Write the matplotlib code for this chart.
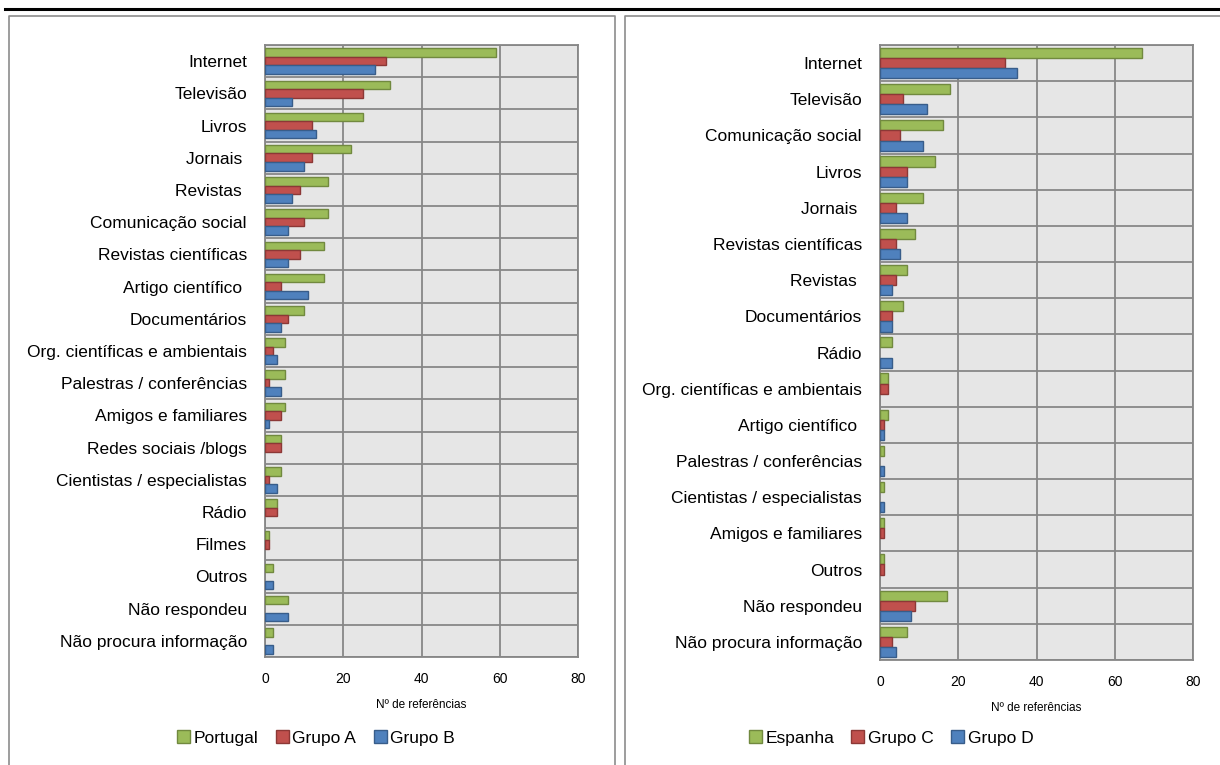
import numpy as np
import matplotlib
matplotlib.use("Agg")
import matplotlib.pyplot as plt
from matplotlib.lines import Line2D
from matplotlib.patches import Patch

plt.rcParams['font.family'] = ['Liberation Sans Narrow', 'Liberation Sans', 'DejaVu Sans']

# left panel: Portugal
cats_pt = ["Internet", "Televisão", "Livros", "Jornais ", "Revistas ", "Comunicação social",
           "Revistas científicas", "Artigo científico ", "Documentários",
           "Org. científicas e ambientais", "Palestras / conferências", "Amigos e familiares",
           "Redes sociais /blogs", "Cientistas / especialistas", "Rádio", "Filmes", "Outros",
           "Não respondeu", "Não procura informação"]
portugal = [59, 32, 25, 22, 16, 16, 15, 15, 10, 5, 5, 5, 4, 4, 3, 1, 2, 6, 2]
grupo_a = [31, 25, 12, 12, 9, 10, 9, 4, 6, 2, 1, 4, 4, 1, 3, 1, 0, 0, 0]
grupo_b = [28, 7, 13, 10, 7, 6, 6, 11, 4, 3, 4, 1, 0, 3, 0, 0, 2, 6, 2]

# right panel: Espanha
cats_es = ["Internet", "Televisão", "Comunicação social", "Livros", "Jornais ",
           "Revistas científicas", "Revistas ", "Documentários", "Rádio",
           "Org. científicas e ambientais", "Artigo científico ", "Palestras / conferências",
           "Cientistas / especialistas", "Amigos e familiares", "Outros", "Não respondeu",
           "Não procura informação"]
espanha = [67, 18, 16, 14, 11, 9, 7, 6, 3, 2, 2, 1, 1, 1, 1, 17, 7]
grupo_c = [32, 6, 5, 7, 4, 4, 4, 3, 0, 2, 1, 0, 0, 1, 1, 9, 3]
grupo_d = [35, 12, 11, 7, 7, 5, 3, 3, 3, 0, 1, 1, 1, 0, 0, 8, 4]

GREEN, GREEN_E = "#9BBB59", "#71893F"
RED, RED_E = "#C0504D", "#8C3836"
BLUE, BLUE_E = "#4F81BD", "#385D8A"
GRID = "#878787"
W, H = 1220, 765


def draw_panel(fig, rect, cats, series, names, bar_h, legend_x):
    ax = fig.add_axes(rect)
    n = len(cats)
    y = np.arange(n)
    colors = [(GREEN, GREEN_E), (RED, RED_E), (BLUE, BLUE_E)]
    offsets = [-bar_h, 0, bar_h]
    for vals, (fc, ec), off in zip(series, colors, offsets):
        # no outline for empty bars
        edges = [ec if v > 0 else "none" for v in vals]
        ax.barh(y + off, vals, height=bar_h, color=fc, edgecolor=edges, linewidth=1.0, zorder=3)
    ax.set_xlim(0, 80)
    ax.set_ylim(n - 0.5, -0.5)
    ax.set_xticks([0, 20, 40, 60, 80])
    ax.set_yticks(y)
    ax.set_yticklabels(cats, fontsize=12.5)
    ax.set_yticks(np.arange(n + 1) - 0.5, minor=True)
    ax.set_facecolor("#E6E6E6")
    ax.grid(axis="x", which="major", color=GRID, linewidth=1.3, zorder=1)
    ax.grid(axis="y", which="minor", color=GRID, linewidth=1.3, zorder=1)
    ax.tick_params(axis="both", which="both", length=0)
    ax.tick_params(axis="y", pad=13)
    ax.tick_params(axis="x", pad=11, labelsize=10)
    for s in ax.spines.values():
        s.set_color(GRID)
        s.set_linewidth(1.3)
    ax.set_xlabel("Nº de referências", fontsize=8.5, labelpad=9)
    handles = [Patch(facecolor=fc, edgecolor=ec, linewidth=1.0) for fc, ec in colors]
    fig.legend(handles, names, loc="center", bbox_to_anchor=(legend_x / W, 1 - 738 / H),
               ncol=3, frameon=False, fontsize=12.5, handlelength=0.75, handleheight=0.75,
               handletextpad=0.2, columnspacing=1.0)
    return ax


fig = plt.figure(figsize=(W / 100, H / 100), dpi=100)

draw_panel(fig, [265 / W, 1 - 657 / H, 313 / W, 612 / H], cats_pt,
           [portugal, grupo_a, grupo_b], ["Portugal", "Grupo A", "Grupo B"], 0.265, 316)
draw_panel(fig, [880 / W, 1 - 660 / H, 313 / W, 615 / H], cats_es,
           [espanha, grupo_c, grupo_d], ["Espanha", "Grupo C", "Grupo D"], 0.28, 891)

# frames around each panel and rule across the top
box = dict(color="#8C8C8C", linewidth=1.2, transform=fig.transFigure)
fig.add_artist(Line2D([9 / W, 9 / W, 615 / W, 615 / W], [0, 1 - 16 / H, 1 - 16 / H, 0], **box))
fig.add_artist(Line2D([625 / W, 625 / W, 1.0], [0, 1 - 16 / H, 1 - 16 / H], **box))
fig.add_artist(Line2D([5 / W, 1.0], [1 - 8.5 / H, 1 - 8.5 / H], color="black",
                      linewidth=2.2, transform=fig.transFigure))

fig.savefig("out.png", dpi=100)
